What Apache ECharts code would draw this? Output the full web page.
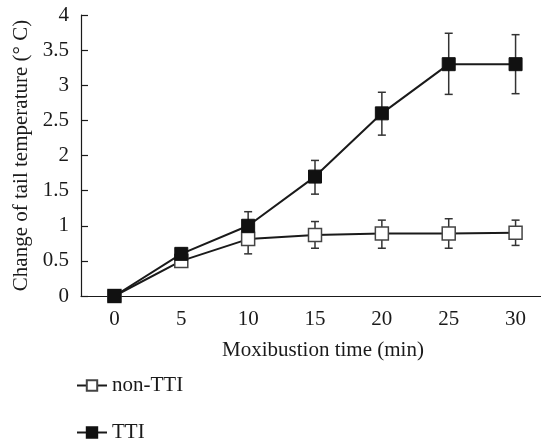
<!DOCTYPE html>
<html>
<head>
<meta charset="utf-8">
<script src="https://cdn.jsdelivr.net/npm/echarts@6/dist/echarts.min.js"></script>
<style>
  html, body { margin: 0; padding: 0; background: #fff; }
  #chart { width: 541px; height: 447px; }
</style>
</head>
<body>
<div id="chart"></div>
<script>
  // time points (min)
  const times = ['0', '5', '10', '15', '20', '25', '30']

  // non-TTI group
  const nonTtiMean = [0, 0.5, 0.81, 0.87, 0.89, 0.89, 0.9]
  const nonTtiLow = [0, 0.45, 0.6, 0.68, 0.68, 0.68, 0.72]
  const nonTtiHigh = [0, 0.55, 1.02, 1.06, 1.08, 1.1, 1.08]

  // TTI group
  const ttiMean = [0, 0.6, 1.0, 1.7, 2.6, 3.3, 3.3]
  const ttiLow = [0, 0.52, 0.8, 1.45, 2.29, 2.87, 2.88]
  const ttiHigh = [0, 0.68, 1.2, 1.93, 2.9, 3.74, 3.72]

  const font = "'Liberation Serif', 'DejaVu Serif', serif"
  const ink = '#1a1a1a'
  const fs = 21

  const chart = echarts.init(document.getElementById('chart'))

  // 误差线：竖线加上下短横
  const errorBar = (low, high) => ({
    type: 'custom',
    silent: true,
    z: 1,
    data: times.map((t, i) => [i, low[i], high[i]]),
    encode: { x: 0, y: [1, 2] },
    renderItem: (params, api) => {
      const top = api.coord([api.value(0), api.value(2)])
      const bot = api.coord([api.value(0), api.value(1)])
      const w = 4
      const style = { stroke: '#333', lineWidth: 1.5 }
      return {
        type: 'group',
        children: [
          { type: 'line', shape: { x1: top[0], y1: top[1], x2: bot[0], y2: bot[1] }, style },
          { type: 'line', shape: { x1: top[0] - w, y1: top[1], x2: top[0] + w, y2: top[1] }, style },
          { type: 'line', shape: { x1: bot[0] - w, y1: bot[1], x2: bot[0] + w, y2: bot[1] }, style }
        ]
      }
    }
  })

  const legendBase = {
    orient: 'vertical',
    left: 71,
    itemWidth: 30,
    itemHeight: 13,
    textStyle: { fontFamily: font, fontSize: fs, color: ink }
  }

  const option = {
    animation: false,
    backgroundColor: '#fff',
    textStyle: { fontFamily: font, color: ink },
    grid: { left: 81, right: -8, top: 15, bottom: 151, outerBoundsMode: 'none', containLabel: false },
    legend: [
      { ...legendBase, top: 370, data: ['non-TTI'] },
      { ...legendBase, top: 417, data: ['TTI'] }
    ],
    xAxis: {
      type: 'category',
      data: times,
      boundaryGap: true,
      name: 'Moxibustion time (min)',
      nameLocation: 'middle',
      nameGap: 44,
      nameTextStyle: { fontFamily: font, fontSize: fs, color: ink, padding: [0, 0, 0, 16] },
      axisLine: { lineStyle: { color: ink, width: 1.2 } },
      axisTick: { inside: true, length: 7, lineStyle: { color: ink, width: 1.2 } },
      axisLabel: { fontFamily: font, fontSize: fs, color: ink, margin: 13 },
      splitLine: { show: false }
    },
    yAxis: {
      type: 'value',
      min: 0,
      max: 4,
      interval: 0.5,
      name: 'Change of tail temperature (° C)',
      nameLocation: 'middle',
      nameGap: 45,
      nameTextStyle: { fontFamily: font, fontSize: fs, color: ink },
      axisLine: { show: true, lineStyle: { color: ink, width: 1.2 } },
      axisTick: { show: true, inside: true, length: 7, lineStyle: { color: ink, width: 1.2 } },
      axisLabel: { fontFamily: font, fontSize: fs, color: ink, margin: 12 },
      splitLine: { show: false }
    },
    series: [
      errorBar(nonTtiLow, nonTtiHigh),
      errorBar(ttiLow, ttiHigh),
      {
        name: 'non-TTI',
        type: 'line',
        z: 3,
        data: nonTtiMean,
        symbol: 'rect',
        symbolSize: 13,
        showAllSymbol: true,
        lineStyle: { color: ink, width: 2 },
        itemStyle: { color: '#fff', borderColor: '#444', borderWidth: 1.5 }
      },
      {
        name: 'TTI',
        type: 'line',
        z: 4,
        data: ttiMean,
        symbol: 'rect',
        symbolSize: 13,
        showAllSymbol: true,
        lineStyle: { color: ink, width: 2 },
        itemStyle: { color: '#111', borderColor: '#111', borderWidth: 1 }
      }
    ]
  }

  chart.setOption(option)
</script>
</body>
</html>
